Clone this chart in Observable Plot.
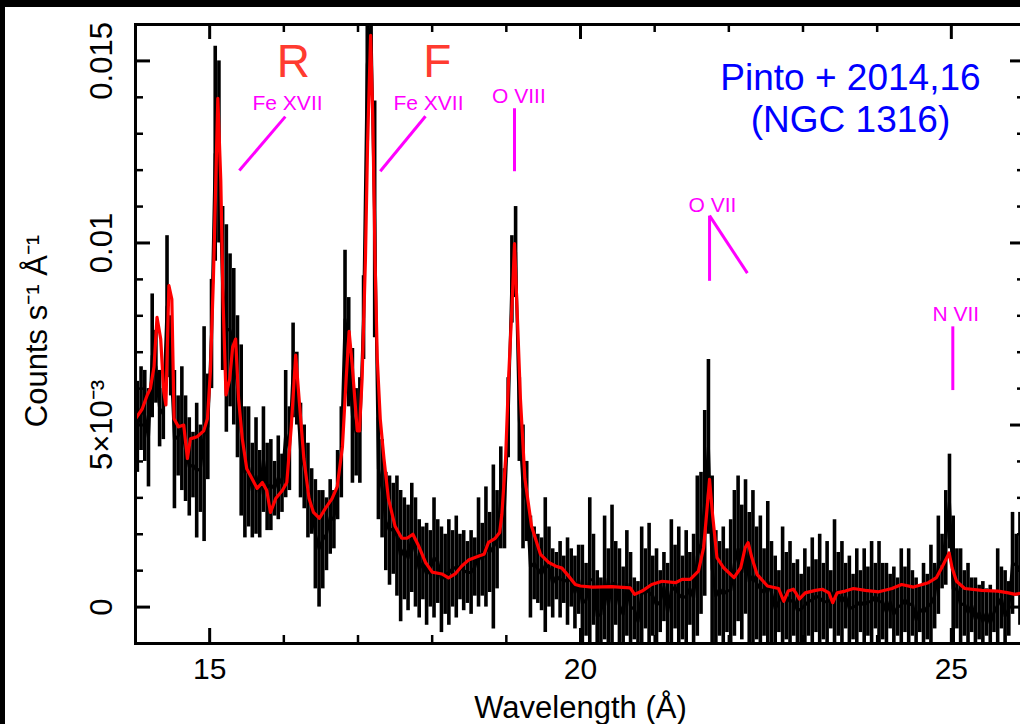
<!DOCTYPE html>
<html><head><meta charset="utf-8">
<script src="https://cdn.jsdelivr.net/npm/d3@7"></script>
<script src="https://cdn.jsdelivr.net/npm/@observablehq/plot@0.6"></script>
<style>
html,body{margin:0;padding:0;background:#000;width:1020px;height:724px;overflow:hidden}
#panel{position:absolute;left:5px;top:7px;width:1040px;height:717px;background:#fff;overflow:hidden}
</style></head>
<body><div id="panel"></div>
<script>
// Spectrum bins: 0.05 Å wide starting at 14.0 Å; rates in units of 1e-3 counts s^-1 Å^-1
const binStart = 14.0, binWidth = 0.05;
const rateHigh = [
 6.2,6.6,6.5,6.0,8.6,7.6,6.5,6.0,10.2,8.0,6.5,5.8,6.6,5.8,5.2,4.8,5.6,5.0,7.7,6.4,
 9.0,15.4,15.0,11.0,10.5,9.7,9.3,8.0,7.2,5.5,5.5,4.5,5.2,4.3,5.5,4.5,4.6,4.0,4.7,4.2,
 6.5,5.5,7.8,7.0,5.6,5.0,4.5,3.8,3.5,3.2,3.2,3.0,3.5,3.2,4.3,5.5,9.8,8.5,7.1,6.0,
 6.3,9.1,17.0,17.0,13.9,5.2,4.6,3.7,3.6,3.4,3.6,3.2,3.0,2.8,3.4,3.0,2.4,2.2,2.3,2.1,
 3.0,2.4,2.2,2.0,2.4,2.1,2.5,2.0,2.1,1.8,2.1,1.9,3.0,2.3,3.3,2.6,3.9,3.2,4.4,3.8,
 6.3,10.2,11.0,6.3,5.0,4.0,2.5,2.2,2.0,1.9,3.0,2.2,1.6,1.5,1.8,1.4,1.9,1.6,1.4,1.7,
 1.7,1.2,3.0,2.0,1.0,0.8,2.5,1.6,2.8,1.8,1.6,1.1,2.1,1.5,0.8,0.7,2.2,1.6,2.3,1.4,
 1.6,1.0,1.5,1.2,2.4,1.7,2.2,1.4,2.1,1.5,2.0,3.6,3.7,5.4,6.8,3.6,2.1,1.8,2.2,1.6,
 2.4,3.2,3.6,2.8,3.5,2.6,3.2,2.2,2.5,1.6,2.9,1.8,1.4,1.0,2.2,1.5,1.8,1.2,1.3,0.9,
 1.6,1.1,1.9,1.3,2.0,1.2,1.8,1.0,2.4,1.5,1.8,1.2,1.4,0.9,1.6,1.0,1.6,1.1,1.8,1.2,
 1.8,1.2,1.2,0.9,1.1,0.8,1.6,1.1,1.6,1.0,0.8,0.6,1.2,0.9,1.7,1.2,2.5,2.0,3.2,4.2,
 2.5,1.6,1.6,1.0,1.2,0.8,0.8,0.6,0.7,0.5,0.6,0.4,1.6,1.1,1.0,0.7,2.6,2.0,2.6,2.2
];
const rateLow = [
 3.7,4.3,4.0,3.3,5.2,5.6,4.4,4.6,6.3,5.8,2.7,3.6,3.2,2.9,2.5,3.0,1.9,2.6,1.8,3.5,
 6.0,9.5,10.0,6.5,4.8,5.5,5.0,4.1,2.5,1.9,2.2,1.9,2.0,1.9,2.6,2.1,2.1,2.5,2.4,2.6,
 3.0,3.2,5.2,5.0,3.0,2.7,1.9,2.0,0.5,0.0,0.5,1.0,1.45,1.6,2.4,3.0,6.0,5.5,3.4,3.6,
 3.4,6.8,12.8,15.0,7.4,2.4,1.9,1.0,0.6,0.9,0.3,-0.4,0.2,-0.1,0.4,0.0,-0.3,0.2,-0.5,0.0,
 -0.3,0.1,-0.7,-0.2,-0.5,0.0,-0.3,0.2,-0.1,0.1,-0.2,0.3,0.0,0.3,0.0,0.4,-0.6,0.5,1.6,1.6,
 4.1,7.8,8.5,4.0,1.6,1.8,-0.3,0.2,0.1,-0.1,-0.7,0.0,-0.3,0.2,-0.3,0.1,-0.5,0.0,-0.6,-0.2,
 -1.5,-0.8,-1.5,-0.5,-1.5,-1.2,-0.9,-1.5,-1.5,-0.5,-1.5,-1.5,-0.8,-1.5,-0.9,-1.5,-1.5,-0.6,-1.5,-0.8,
 -1.5,-0.7,-0.4,-1.5,-1.5,-0.6,-1.5,-0.9,-1.5,-0.5,-1.5,-0.8,-0.2,0.3,2.0,-1.5,-1.5,-0.8,-1.5,-0.7,
 -1.5,-0.8,-0.4,-0.9,-0.2,-1.2,-1.5,-0.9,-1.5,-0.8,-1.5,-1.0,-1.5,-0.7,-1.5,-0.9,-1.5,-0.8,-1.5,-1.0,
 -1.5,-0.8,-1.5,-0.7,-1.5,-0.9,-1.5,-0.6,-1.5,-0.8,-1.5,-0.6,-1.5,-0.9,-1.5,-0.7,-1.5,-0.8,-1.5,-0.6,
 -1.5,-0.9,-1.5,-0.6,-1.5,-0.8,-1.5,-0.7,-1.5,-0.8,-1.5,-0.7,-1.5,-0.9,-1.5,-0.6,-0.2,0.5,0.6,1.6,
 -1.5,-0.6,-1.5,-0.8,-1.5,-0.7,-1.5,-0.9,-1.5,-0.8,-1.5,-0.7,-1.5,-0.6,-1.5,-0.8,-0.2,0.3,-0.5,0.1
];

// Best-fit model (red)
const modelWavelength = [
 14.00,14.09,14.16,14.20,14.25,14.29,14.34,14.38,14.41,14.45,14.49,14.52,14.58,14.65,14.70,14.74,14.83,14.92,14.97,
 15.01,15.05,15.08,15.11,15.15,15.18,15.22,15.27,15.31,15.35,15.39,15.44,15.50,15.57,15.64,15.71,15.77,15.82,15.89,15.98,
 16.04,16.10,16.16,16.21,16.27,16.34,16.40,16.48,16.56,16.65,16.72,16.79,16.84,16.88,16.92,16.99,
 17.02,17.055,17.10,17.13,17.17,17.20,17.23,17.26,17.30,17.35,17.41,17.50,17.59,17.66,17.74,17.82,17.91,
 18.00,18.13,18.22,18.31,18.40,18.49,18.63,18.70,18.76,18.85,18.91,18.94,18.99,
 19.03,19.08,19.11,19.14,19.19,19.25,19.34,19.46,19.57,19.66,19.75,19.84,19.93,
 20.00,20.16,20.42,20.67,20.73,20.83,20.96,21.10,21.28,21.37,21.48,21.59,21.66,21.70,21.74,21.78,21.84,21.93,
 22.07,22.16,22.22,22.26,22.31,22.38,22.52,22.67,22.74,22.80,22.87,22.90,22.95,
 23.03,23.17,23.26,23.35,23.40,23.46,23.57,23.68,23.84,24.02,24.20,24.33,24.49,24.69,24.80,24.87,24.94,24.97,
 25.01,25.07,25.18,25.41,25.63,25.77,25.86,26.00
];
const modelRate = [
 5.17,5.44,5.83,6.0,6.6,7.96,7.36,5.93,5.55,8.83,8.45,5.17,4.95,5.0,4.08,4.62,4.68,4.84,5.17,
 6.48,9.0,11.5,13.97,11.7,8.45,5.83,6.26,7.14,7.36,5.72,4.62,3.80,3.53,3.26,3.42,3.20,2.60,2.98,3.20,
 3.42,4.95,6.92,5.61,4.08,2.98,2.60,2.44,2.71,2.98,3.31,4.40,6.26,7.57,6.70,4.84,
 4.84,6.26,9.54,12.8,15.7,13.4,9.54,6.81,5.17,4.08,2.98,2.22,1.89,1.89,2.0,1.67,1.23,
 0.96,0.91,0.80,0.91,1.13,1.29,1.40,1.45,1.78,1.89,2.05,2.55,4.08,
 6.26,8.45,9.98,8.45,5.72,3.53,2.22,1.45,1.23,1.13,1.07,0.85,0.62,
 0.58,0.55,0.56,0.53,0.35,0.44,0.62,0.71,0.67,0.76,0.76,0.99,1.63,2.55,3.51,2.55,1.36,1.08,
 0.81,1.08,1.63,1.77,1.36,0.90,0.58,0.51,0.16,0.44,0.49,0.40,0.22,
 0.39,0.46,0.49,0.39,0.12,0.39,0.44,0.51,0.46,0.42,0.51,0.62,0.55,0.67,0.81,1.08,1.36,1.49,
 1.08,0.71,0.51,0.46,0.44,0.39,0.35,0.41
];

// Axis ticks
const xMajorTicks = [15, 20, 25];
const xMinorTicks = [16, 17, 18, 19, 21, 22, 23, 24];
const yMajorTicks = [0, 5, 10, 15];
const yMinorTicks = [1, 2, 3, 4, 6, 7, 8, 9, 11, 12, 13, 14];
const yTickLabels = ["0", "5×10⁻³", "0.01", "0.015"];

// Annotations
const ionLabels = ["Fe XVII", "Fe XVII", "O VIII", "O VII", "N VII"];
const ionLabelX = [16.05, 17.95, 19.17, 21.78, 25.06];
const ionLabelY = [13.83, 13.83, 14.04, 11.03, 8.03];
const markerX1 = [16.02, 17.91, 19.11, 21.74, 21.74, 25.02];
const markerY1 = [13.47, 13.48, 13.70, 10.75, 10.75, 7.71];
const markerX2 = [15.40, 17.30, 19.11, 21.74, 22.25, 25.02];
const markerY2 = [11.99, 11.97, 11.97, 8.96, 9.17, 5.96];
const tripletLabels = ["R", "F"];
const tripletX = [16.13, 18.07];
const tripletY = [14.97, 14.97];
const creditLines = ["Pinto + 2014,16", "(NGC 1316)"];
const creditX = [23.64, 23.64];
const creditY = [14.52, 13.36];

const bins = rateHigh.map((hi, i) => ({
  x: binStart + binWidth * (i + 0.5), hi, lo: rateLow[i], mid: (hi + rateLow[i]) / 2
}));
const model = modelWavelength.map((x, i) => ({x, y: modelRate[i]}));
const ions = ionLabels.map((t, i) => ({t, x: ionLabelX[i], y: ionLabelY[i]}));
const markers = markerX1.map((x1, i) => ({x1, y1: markerY1[i], x2: markerX2[i], y2: markerY2[i]}));
const triplet = tripletLabels.map((t, i) => ({t, x: tripletX[i], y: tripletY[i]}));
const credit = creditLines.map((t, i) => ({t, x: creditX[i], y: creditY[i]}));

const W = 1040, H = 717, mL = 130, mR = 20, mT = 17, mB = 81;
const iw = W - mL - mR, ih = H - mT - mB;
const FONT = "'Liberation Sans', Arial, Helvetica, sans-serif";

const chart = Plot.plot({
  width: W, height: H,
  marginLeft: mL, marginRight: mR, marginTop: mT, marginBottom: mB,
  x: {domain: [14, 26], axis: null},
  y: {domain: [-1, 16], axis: null},
  style: {fontFamily: FONT, background: "white", color: "black"},
  marks: [
    Plot.ruleX(bins, {x: "x", y1: "lo", y2: "hi", stroke: "black", strokeWidth: 3.6, clip: true}),
    Plot.line(bins, {x: "x", y: "mid", stroke: "black", strokeWidth: 3, clip: true}),
    Plot.line(model, {x: "x", y: "y", stroke: "#ff0000", strokeWidth: 3.2, clip: true}),
    Plot.link(markers, {x1: "x1", y1: "y1", x2: "x2", y2: "y2", stroke: "#ff00ff", strokeWidth: 3}),
    Plot.text(ions, {x: "x", y: "y", text: "t", fill: "#ff00ff", fontSize: 21, lineAnchor: "middle"}),
    Plot.text(triplet, {x: "x", y: "y", text: "t", fill: "#ff3b30", fontSize: 46, lineAnchor: "middle"}),
    Plot.text(credit, {x: "x", y: "y", text: "t", fill: "#0000ff", fontSize: 37, lineAnchor: "middle"}),
    // frame & ticks
    Plot.frame({stroke: "black", strokeWidth: 3}),
    Plot.ruleX(xMajorTicks, {x: d => d, insetTop: ih - 15, stroke: "black", strokeWidth: 3}),
    Plot.ruleX(xMajorTicks, {x: d => d, insetBottom: ih - 15, stroke: "black", strokeWidth: 3}),
    Plot.ruleX(xMinorTicks, {x: d => d, insetTop: ih - 8, stroke: "black", strokeWidth: 2.5}),
    Plot.ruleX(xMinorTicks, {x: d => d, insetBottom: ih - 8, stroke: "black", strokeWidth: 2.5}),
    Plot.ruleY(yMajorTicks, {y: d => d, insetRight: iw - 15, stroke: "black", strokeWidth: 3}),
    Plot.ruleY(yMajorTicks, {y: d => d, insetLeft: iw - 15, stroke: "black", strokeWidth: 3}),
    Plot.ruleY(yMinorTicks, {y: d => d, insetRight: iw - 8, stroke: "black", strokeWidth: 2.5}),
    Plot.ruleY(yMinorTicks, {y: d => d, insetLeft: iw - 8, stroke: "black", strokeWidth: 2.5}),
    // tick labels
    Plot.text(xMajorTicks, {x: d => d, text: d => String(d), frameAnchor: "bottom", dy: 26, fontSize: 30, lineAnchor: "middle", fill: "black"}),
    Plot.text(yMajorTicks, {y: d => d, text: (d, i) => yTickLabels[i], frameAnchor: "left", textAnchor: "middle", dx: -33, rotate: -90, fontSize: 31, lineAnchor: "middle", fill: "black"}),
    // axis titles
    Plot.text(["Wavelength (Å)"], {frameAnchor: "bottom", dy: 65, fontSize: 31, lineAnchor: "middle", fill: "black"}),
    Plot.text(["Counts s⁻¹ Å⁻¹"], {frameAnchor: "left", textAnchor: "middle", dx: -98, dy: -3, rotate: -90, fontSize: 31, lineAnchor: "middle", fill: "black"})
  ]
});
document.getElementById("panel").appendChild(chart);
</script>
</body></html>
